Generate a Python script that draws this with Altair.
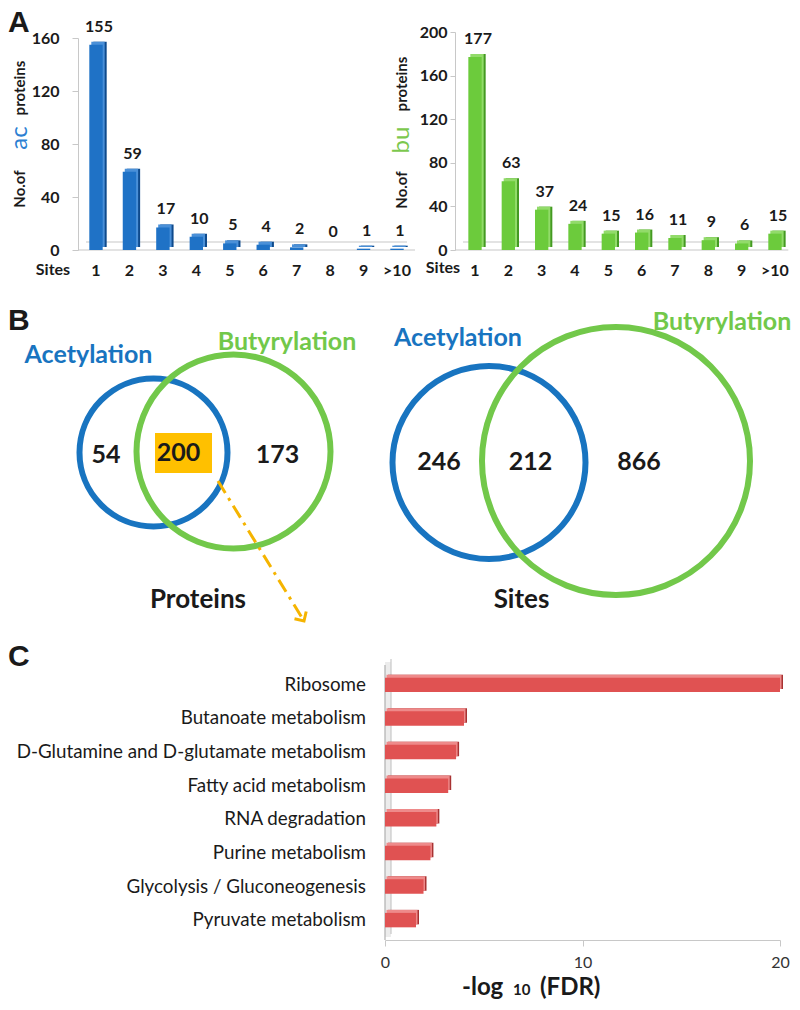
import altair as alt
import pandas as pd

# ---------------- data ----------------
sites = ["1", "2", "3", "4", "5", "6", "7", "8", "9", ">10"]
ac_proteins = [155, 59, 17, 10, 5, 4, 2, 0, 1, 1]
bu_proteins = [177, 63, 37, 24, 15, 16, 11, 9, 6, 15]

venn_sets = ["Acetylation", "Butyrylation"]
protein_overlap = [54, 200, 173]   # ac only, both, bu only
site_overlap = [246, 212, 866]     # ac only, both, bu only

pathways = [
    "Ribosome",
    "Butanoate metabolism",
    "D-Glutamine and D-glutamate metabolism",
    "Fatty acid metabolism",
    "RNA degradation",
    "Purine metabolism",
    "Glycolysis / Gluconeogenesis",
    "Pyruvate metabolism",
]
neg_log10_fdr = [20.0, 4.0, 3.6, 3.2, 2.6, 2.3, 1.95, 1.57]

# ---------------- styling / layout ----------------
FONT = "Lato"
LETTER_FONT = "Liberation Sans"
TXT = "#1a1a1a"
GRAY = "#c8c8c8"
BLUE = "#1874C0"
GREEN = "#72C84A"
ORANGE = "#FFC000"


def label(s, x, y, size=16, color=TXT, weight="bold", angle=0, align="center",
          baseline="middle", font=FONT):
    return alt.Chart(pd.DataFrame({"t": [s]})).mark_text(
        text=s, fontSize=size, color=color, fontWeight=weight, angle=angle,
        align=align, baseline=baseline, font=font
    ).encode(x=alt.value(x), y=alt.value(y))


def site_panel(counts, x0, W, ymax, yrange, po, align, front, side, top, lab_pad,
               tick_size, axis_offset, extras):
    df = pd.DataFrame({"site": sites, "n": counts})
    x = alt.X("site:N", sort=sites,
              scale=alt.Scale(paddingInner=0.6, paddingOuter=po, align=align,
                              range=[x0, x0 + W]),
              axis=alt.Axis(title=None, ticks=False, domain=False, labelAngle=0,
                            orient="bottom", labelPadding=12, labelFont=FONT,
                            labelFontSize=16, labelFontWeight="bold", labelColor=TXT))
    y = alt.Y("n:Q", scale=alt.Scale(domain=[0, ymax], range=yrange, nice=False),
              axis=alt.Axis(title=None, values=list(range(0, ymax + 1, 40)), grid=False,
                            orient="left", offset=axis_offset,
                            domainColor=GRAY, tickColor=GRAY, tickSize=tick_size,
                            labelPadding=lab_pad, labelFont=FONT, labelFontSize=16,
                            labelFontWeight="bold", labelColor=TXT))
    floor_df = pd.DataFrame({"n": [0]})
    floor = alt.Chart(floor_df).mark_rule(color=GRAY, strokeWidth=1.2).encode(
        y=y, x=alt.value(x0), x2=alt.value(x0 + W))
    floor_back = alt.Chart(floor_df).mark_rule(color=GRAY, strokeWidth=1.2,
                                               yOffset=-8, xOffset=8).encode(
        y=y, x=alt.value(x0), x2=alt.value(x0 + W - 8))
    base = alt.Chart(df)
    side_bar = base.mark_bar(color=side, xOffset=4, yOffset=-3).encode(x=x, y=y)
    top_bar = base.mark_bar(color=top, xOffset=2, yOffset=-3).encode(x=x, y=y)
    front_bar = base.mark_bar(color=front).encode(x=x, y=y)
    vals = base.mark_text(dy=-18, dx=3, fontSize=16, fontWeight="bold", font=FONT,
                          color=TXT).encode(x=x, y=y, text="n:Q")
    return alt.layer(floor_back, floor, side_bar, top_bar, front_bar, vals, *extras)


# ---- Row A ----
WA, HA = 711, 218
RX = 377  # left edge of the right-hand panel inside row A
A_left = site_panel(
    ac_proteins, 0, 337, 160, [218, 6], 0.338, 0.5, "#1F72C6", "#0E4A8C", "#4A90D8",
    13, 6, 0,
    [
        label("A", -70, -24, 30, font=LETTER_FONT, align="left", baseline="top"),
        label("Sites", -25, 238, 16),
        label("No.of", -58, 157, 15, angle=270),
        label("ac", -58, 106, 24, color="#2C80D2", weight="normal", angle=270),
        label("proteins", -58, 56, 15, angle=270),
    ],
)
A_right = site_panel(
    bu_proteins, RX, 333.3, 200, [218, 0], 0.3, 0.667, "#6CCB3C", "#449A22", "#92DB6A",
    3, 5, -RX,
    [
        label("Sites", RX - 12, 236, 16),
        label("No.of", RX - 53, 158, 15, angle=270),
        label("bu", RX - 53, 108, 24, color="#7CC84E", weight="normal", angle=270),
        label("proteins", RX - 53, 52, 15, angle=270),
    ],
)
rowA = alt.layer(A_left, A_right).resolve_scale(
    x="independent", y="independent").properties(width=WA, height=HA)

# ---- Row B (Venn diagrams) ----
WB, HB = 714, 415
xs = alt.X("x:Q", scale=alt.Scale(domain=[0, WB], range=[0, WB], nice=False, zero=False), axis=None)
ys = alt.Y("y:Q", scale=alt.Scale(domain=[0, HB], range=[0, HB], nice=False, zero=False), axis=None)

venn_layout = {
    "Proteins": {"circles": [(75.5, 202.5, 74), (155.5, 201.5, 97)],
                 "regions": [(28, 205), (100.5, 203), (199.5, 205)],
                 "sets": [(10.5, 105), (209, 92)],
                 "title": (120, 350)},
    "Sites": {"circles": [(411, 212.5, 96.5), (538, 211, 134)],
              "regions": [(361, 212), (452.5, 212), (561, 212)],
              "sets": [(380, 88), (644, 72)],
              "title": (443.5, 350)},
}
panel_counts = {"Proteins": protein_overlap, "Sites": site_overlap}

circ_rows, num_rows, set_rows, title_rows = [], [], [], []
for panel, lay in venn_layout.items():
    for s, (cx, cy, r) in zip(venn_sets, lay["circles"]):
        circ_rows.append({"set": s, "x": cx, "y": cy, "size": (2 * r) ** 2})
    for (px, py), n in zip(lay["regions"], panel_counts[panel]):
        num_rows.append({"x": px, "y": py, "t": str(n)})
    for s, (px, py) in zip(venn_sets, lay["sets"]):
        set_rows.append({"set": s, "x": px, "y": py, "t": s})
    title_rows.append({"x": lay["title"][0], "y": lay["title"][1], "t": panel})

set_color = alt.Color("set:N", scale=alt.Scale(domain=venn_sets, range=[BLUE, GREEN]), legend=None)

circles = alt.Chart(pd.DataFrame(circ_rows)).mark_point(
    shape="circle", filled=False, strokeWidth=6, opacity=1
).encode(x=xs, y=ys, size=alt.Size("size:Q", scale=None), color=set_color)

box = alt.Chart(pd.DataFrame({"x": [77], "x2": [134], "y": [183], "y2": [223]})).mark_rect(
    color=ORANGE).encode(x=xs, x2="x2:Q", y=ys, y2="y2:Q")

nums = alt.Chart(pd.DataFrame(num_rows)).mark_text(
    fontSize=25, fontWeight="bold", font=FONT, color=TXT).encode(x=xs, y=ys, text="t:N")
set_labels = alt.Chart(pd.DataFrame(set_rows)).mark_text(
    fontSize=25, fontWeight="bold", font=FONT).encode(
    x=xs, y=ys, text="t:N",
    color=alt.Color("set:N", scale=alt.Scale(domain=venn_sets, range=["#1F77C4", "#74C64C"]), legend=None))
titles = alt.Chart(pd.DataFrame(title_rows)).mark_text(
    fontSize=26, fontWeight="bold", font=FONT, color=TXT).encode(x=xs, y=ys, text="t:N")

arrow_df = pd.DataFrame({"x": [140, 226], "y": [231, 371], "o": [0, 1]})
arrow = alt.Chart(arrow_df).mark_line(color="#F5B400", strokeWidth=3, strokeDash=[14, 6, 3, 6]).encode(
    x=xs, y=ys, order="o:Q")
head = alt.Chart(arrow_df.iloc[[1]]).mark_point(
    shape="M -1 -1 L 0 0 L 1 -1", filled=False, strokeWidth=3, size=190, angle=328,
    color="#F5B400", opacity=1).encode(x=xs, y=ys)

rowB = alt.layer(
    circles, box, nums, set_labels, titles, arrow, head,
    label("B", -70, 71, 30, font=LETTER_FONT, align="left"),
).properties(width=WB, height=HB)

# ---- Row C (pathway enrichment) ----
WC, HC = 714, 275
dfC = pd.DataFrame({"pathway": pathways, "v": neg_log10_fdr})
yC = alt.Y("pathway:N", sort=pathways,
           scale=alt.Scale(paddingInner=0.57, paddingOuter=0.377), axis=None)
xC = alt.X("v:Q", scale=alt.Scale(domain=[0, 20], range=[307, 702], nice=False),
           axis=alt.Axis(values=[0, 10, 20], title=None, grid=False, domainColor=GRAY,
                         tickColor=GRAY, tickSize=6, labelPadding=8, labelFont=FONT,
                         labelFontSize=16, labelColor="#333", labelFlush=False))
baseC = alt.Chart(dfC)
wall_fill = alt.Chart(pd.DataFrame({"a": [0]})).mark_rect(color="#ececec").encode(
    x=alt.value(307), x2=alt.value(313), y=alt.value(-3), y2=alt.value(HC - 3))
wall_back = alt.Chart(pd.DataFrame({"a": [0]})).mark_rule(color=GRAY, strokeWidth=1.2).encode(
    x=alt.value(313), y=alt.value(-6), y2=alt.value(HC - 6))
wall = alt.Chart(pd.DataFrame({"a": [0]})).mark_rule(color="#b0b0b0", strokeWidth=1.2).encode(
    x=alt.value(307), y=alt.value(0), y2=alt.value(HC))
sideC = baseC.mark_bar(color="#A83232", xOffset=3, yOffset=-3).encode(x=xC, y=yC)
topC = baseC.mark_bar(color="#EE8A8A", xOffset=1.5, yOffset=-3).encode(x=xC, y=yC)
frontC = baseC.mark_bar(color="#E05252").encode(x=xC, y=yC)
pathlabels = baseC.mark_text(align="right", baseline="middle", fontSize=18.8, font=FONT,
                             color=TXT).encode(x=alt.value(288), y=yC, text="pathway:N")

rowC = alt.layer(
    wall_fill, wall_back, wall, sideC, topC, frontC, pathlabels,
    label("C", -70, -8, 30, font=LETTER_FONT, align="left"),
    label("-log", 384, 330, 24, align="left", baseline="alphabetic"),
    label("10", 435, 330, 15, align="left", baseline="alphabetic"),
    label("(FDR)", 462, 330, 24, align="left", baseline="alphabetic"),
).properties(width=WC, height=HC)

chart = alt.vconcat(rowA, rowB, rowC, spacing=0, bounds="flush").properties(
    padding=0
).configure_view(stroke=None)

chart.save("out.html", embed_options={"renderer": "svg", "actions": False})
